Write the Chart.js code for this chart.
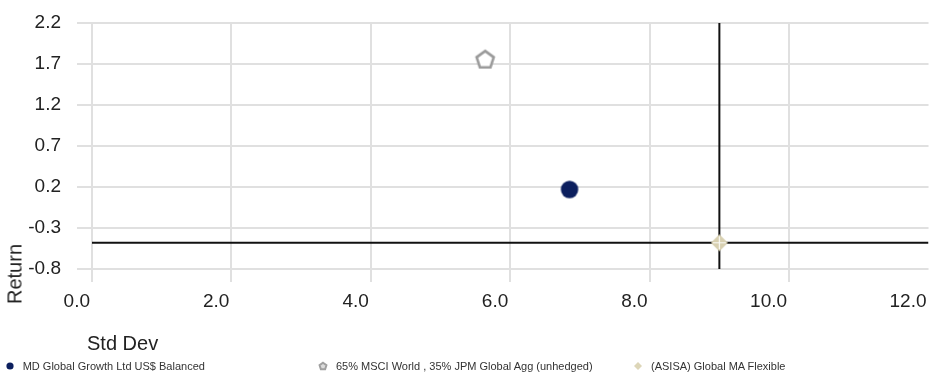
<!DOCTYPE html>
<html>
<head>
<meta charset="utf-8">
<script src="https://cdn.jsdelivr.net/npm/chart.js@4.4.1/dist/chart.umd.min.js"></script>
<style>
  body { margin: 0; background: #fff; font-family: "Liberation Sans", Arial, sans-serif; }
  #wrap { position: relative; width: 929px; height: 372px; overflow: hidden; }
  #riskChart { position: absolute; left: 0; top: 0; }
  .axis-title { position: absolute; font-size: 20px; color: #222; white-space: nowrap; }
  #yTitle { left: 15px; top: 274px; transform: translate(-50%, -50%) rotate(-90deg); }
  #xTitle { left: 87px; top: 343px; transform: translateY(-50%); }
  .leg { position: absolute; top: 366px; transform: translateY(-50%); font-size: 11px; color: #333; white-space: nowrap; }
  .leg canvas { position: absolute; top: 50%; transform: translate(-50%, -50%); }
</style>
</head>
<body>
<div id="wrap">
  <canvas id="riskChart" width="929" height="372"></canvas>
  <div class="axis-title" id="yTitle">Return</div>
  <div class="axis-title" id="xTitle">Std Dev</div>
  <div id="legend"></div>
</div>
<script>
// data
const seriesNames = [
  "MD Global Growth Ltd US$ Balanced",
  "65% MSCI World , 35% JPM Global Agg (unhedged)",
  "(ASISA) Global MA Flexible"
];
const stdDev = [6.85, 5.64, 9.0];
const returns = [0.17, 1.76, -0.48];
const xTickValues = [0, 2, 4, 6, 8, 10, 12];
const yTickValues = [2.2, 1.7, 1.2, 0.7, 0.2, -0.3, -0.8];

const gridColor = "#e0e0e0";
const tickColor = "#222";

// marker pictures
function pentagon(r, stroke, fill, lw) {
  const size = Math.ceil(2 * r + lw + 2);
  const c = document.createElement("canvas");
  c.width = size; c.height = size;
  const g = c.getContext("2d");
  const cx = size / 2, cy = size / 2 + r * 0.1;
  g.beginPath();
  for (let i = 0; i < 5; i++) {
    const a = -Math.PI / 2 + i * 2 * Math.PI / 5;
    const px = cx + r * Math.cos(a), py = cy + r * Math.sin(a);
    if (i === 0) g.moveTo(px, py); else g.lineTo(px, py);
  }
  g.closePath();
  g.fillStyle = fill; g.fill();
  g.lineWidth = lw; g.strokeStyle = stroke; g.stroke();
  return c;
}

function diamond(r, fill, cross) {
  const size = Math.ceil(2 * r + 2);
  const c = document.createElement("canvas");
  c.width = size; c.height = size;
  const g = c.getContext("2d");
  const m = size / 2;
  g.beginPath();
  g.moveTo(m, m - r); g.lineTo(m + r, m); g.lineTo(m, m + r); g.lineTo(m - r, m);
  g.closePath();
  g.fillStyle = fill; g.fill();
  if (cross) {
    g.strokeStyle = "rgba(255,255,255,0.9)";
    g.lineWidth = 1.2;
    g.beginPath();
    g.moveTo(m - r + 2, m); g.lineTo(m + r - 2, m);
    g.moveTo(m, m - r + 2); g.lineTo(m, m + r - 2);
    g.stroke();
  }
  return c;
}

function dot(r, fill) {
  const size = Math.ceil(2 * r + 2);
  const c = document.createElement("canvas");
  c.width = size; c.height = size;
  const g = c.getContext("2d");
  g.beginPath(); g.arc(size / 2, size / 2, r, 0, Math.PI * 2);
  g.fillStyle = fill; g.fill();
  return c;
}

const navy = "#0c1f5e";
const dotImg = dot(8.7, navy);
const pentImg = pentagon(9, "#9a9a9a", "#ffffff", 2.6);
const diaImg = diamond(8.5, "#d8d0b0", true);

// crosshair through the sector average
const avgX = stdDev[2], avgY = returns[2];
const hLine = [{ x: xTickValues[0], y: avgY }, { x: xTickValues[xTickValues.length - 1], y: avgY }];
const vLine = [{ x: avgX, y: yTickValues[0] }, { x: avgX, y: yTickValues[yTickValues.length - 1] }];

// image markers with a tiny radius so the layout keeps no extra overflow room
const marker = { pointRadius: 0.5, pointHoverRadius: 0, pointBorderWidth: 0, order: 0 };

const ctx = document.getElementById("riskChart");
new Chart(ctx, {
  type: "scatter",
  data: {
    datasets: [
      Object.assign({ label: seriesNames[0], data: [{ x: stdDev[0], y: returns[0] }], pointStyle: dotImg }, marker),
      Object.assign({ label: seriesNames[1], data: [{ x: stdDev[1], y: returns[1] }], pointStyle: pentImg }, marker),
      Object.assign({ label: seriesNames[2], data: [{ x: stdDev[2], y: returns[2] }], pointStyle: diaImg }, marker),
      { label: "h", data: hLine, showLine: true, borderColor: "#111", borderWidth: 2, pointRadius: 0, pointHoverRadius: 0, pointBorderWidth: 0, order: 5 },
      { label: "v", data: vLine, showLine: true, borderColor: "#111", borderWidth: 2, pointRadius: 0, pointHoverRadius: 0, pointBorderWidth: 0, order: 5 }
    ]
  },
  options: {
    responsive: false,
    animation: false,
    devicePixelRatio: 1,
    layout: { padding: { left: 0, right: 0, top: 23, bottom: 53 } },
    plugins: { legend: { display: false }, tooltip: { enabled: false } },
    scales: {
      x: {
        type: "linear",
        min: 0, max: 12,
        border: { display: false },
        grid: {
          color: (c) => (c.tick && c.tick.value === 12 ? "rgba(0,0,0,0)" : gridColor),
          lineWidth: 2,
          tickLength: 13
        },
        afterBuildTicks: (scale) => { scale.ticks = xTickValues.map((v) => ({ value: v })); },
        ticks: {
          color: tickColor,
          font: { family: "'Liberation Sans', Arial, sans-serif", size: 19 },
          padding: 8,
          align: "end",
          labelOffset: -2,
          maxRotation: 0,
          autoSkip: false,
          callback: (v) => Number(v).toFixed(1)
        },
        afterFit: (scale) => { scale.height = 50; scale.paddingLeft = 0; scale.paddingRight = 0; }
      },
      y: {
        type: "linear",
        min: -0.8, max: 2.2,
        border: { display: false },
        grid: { color: gridColor, lineWidth: 2, tickLength: 15 },
        afterBuildTicks: (scale) => { scale.ticks = yTickValues.map((v) => ({ value: v })); },
        ticks: {
          color: tickColor,
          font: { family: "'Liberation Sans', Arial, sans-serif", size: 19 },
          padding: 16,
          autoSkip: false,
          callback: (v) => Number(v).toFixed(1)
        },
        afterFit: (scale) => { scale.width = 92; scale.paddingTop = 0; scale.paddingBottom = 0; }
      }
    }
  }
});

// legend in fixed columns
const legend = document.getElementById("legend");
const legMarks = [dot(3.6, navy), pentagon(3.6, "#a0a0a0", "#dcdcdc", 2), diamond(4, "#ddd6b8", false)];
const legX = [9.7, 323, 638];
seriesNames.forEach((name, i) => {
  const item = document.createElement("div");
  item.className = "leg";
  item.style.left = legX[i] + "px";
  item.style.paddingLeft = "13px";
  const m = legMarks[i];
  m.style.left = "0px";
  item.appendChild(m);
  item.appendChild(document.createTextNode(name));
  legend.appendChild(item);
});
</script>
</body>
</html>
